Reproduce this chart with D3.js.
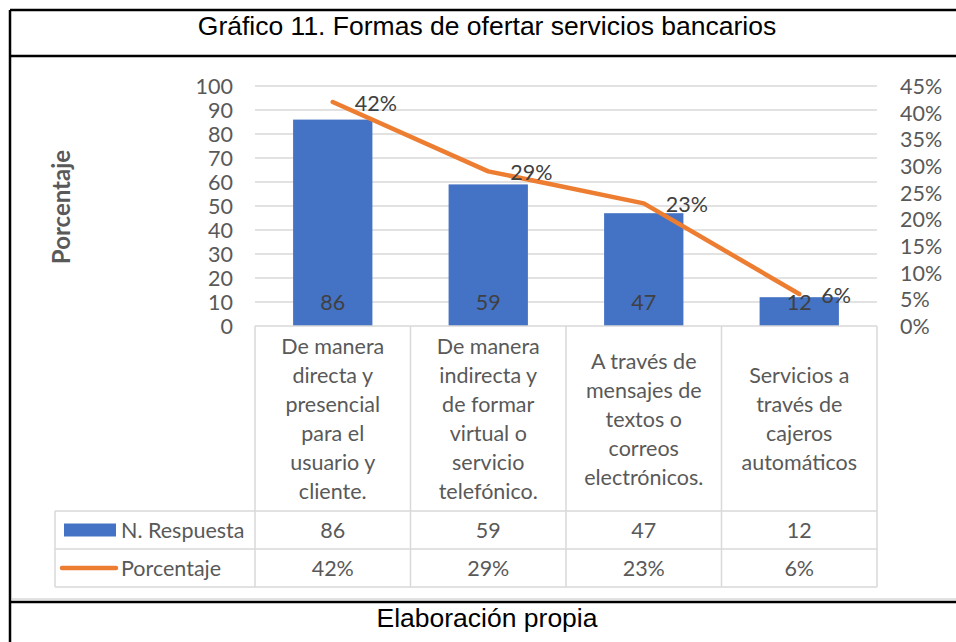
<!DOCTYPE html>
<html>
<head>
<meta charset="utf-8">
<script src="https://cdn.jsdelivr.net/npm/d3@7"></script>
<style>
  body { margin: 0; background: #fff; }
  svg text { font-family: Lato, "Open Sans", sans-serif; }
</style>
</head>
<body>
<svg id="chart"></svg>
<script>
// data
const categories = [
  ['De manera', 'directa y', 'presencial', 'para el', 'usuario y', 'cliente.'],
  ['De manera', 'indirecta y', 'de formar', 'virtual o', 'servicio', 'telefónico.'],
  ['A través de', 'mensajes de', 'textos o', 'correos', 'electrónicos.'],
  ['Servicios a', 'través de', 'cajeros', 'automáticos']
];
const respuestas = [86, 59, 47, 12];
const porcentajes = [0.42, 0.29, 0.23, 0.06];
const leftTicks = [0, 10, 20, 30, 40, 50, 60, 70, 80, 90, 100];
const rightTicks = [0, 0.05, 0.10, 0.15, 0.20, 0.25, 0.30, 0.35, 0.40, 0.45];

const width = 956, height = 642;
const plot = { left: 255, right: 877, top: 86, bottom: 326 };
const tableTop = 511, rowH = 38, legendLeft = 55;
const fs = '21.5px';

const svg = d3.select('#chart').attr('width', width).attr('height', height);

const idx = d3.range(categories.length);
const x = d3.scaleBand().domain(idx).range([plot.left, plot.right])
    .paddingInner(0.49).paddingOuter(0.245);
const y = d3.scaleLinear().domain([0, 100]).range([plot.bottom, plot.top]);
const y2 = d3.scaleLinear().domain([0, 0.45]).range([plot.bottom, plot.top]);
const fmtPct = d3.format('.0%');
const grey = '#595959', dark = '#404040', gridC = '#d9d9d9';

// outer frame
svg.append('line').attr('x1', 12).attr('x2', width).attr('y1', 599).attr('y2', 599)
    .attr('stroke', gridC).attr('stroke-width', 1.5);
svg.append('g').attr('stroke', '#000').attr('stroke-width', 2.5).selectAll('line')
    .data([[10, 10, width, 10], [10, 56, width, 56], [10, 602, width, 602], [10, 10, 10, height]])
    .join('line')
    .attr('x1', d => d[0]).attr('y1', d => d[1]).attr('x2', d => d[2]).attr('y2', d => d[3]);

svg.append('text').attr('x', 487).attr('y', 35).attr('text-anchor', 'middle')
    .style('font-family', '"Liberation Sans", Arial, sans-serif').style('font-size', '26.5px')
    .attr('fill', '#000').text('Gráfico 11. Formas de ofertar servicios bancarios');
svg.append('text').attr('x', 487).attr('y', 627).attr('text-anchor', 'middle')
    .style('font-family', '"Liberation Sans", Arial, sans-serif').style('font-size', '26.5px')
    .attr('fill', '#000').text('Elaboración propia');

// gridlines
svg.append('g').selectAll('line').data(leftTicks.slice(1)).join('line')
    .attr('x1', plot.left).attr('x2', plot.right)
    .attr('y1', d => y(d)).attr('y2', d => y(d))
    .attr('stroke', gridC).attr('stroke-width', 1.3);

// left axis
const yAxis = svg.append('g').attr('transform', `translate(${plot.left - 22},0)`)
    .call(d3.axisLeft(y).tickValues(leftTicks).tickSize(0).tickPadding(0));
yAxis.select('.domain').remove();
yAxis.selectAll('text').attr('fill', grey).style('font-size', fs).attr('dy', '0.35em');

// right axis
const y2Axis = svg.append('g').attr('transform', `translate(${plot.right + 23},0)`)
    .call(d3.axisRight(y2).tickValues(rightTicks).tickFormat(fmtPct).tickSize(0).tickPadding(0));
y2Axis.select('.domain').remove();
y2Axis.selectAll('text').attr('fill', grey).style('font-size', fs).attr('dy', '0.35em');

// axis title
svg.append('text').attr('transform', `translate(70,207) rotate(-90)`)
    .attr('text-anchor', 'middle').attr('fill', grey)
    .style('font-size', '24px').style('font-weight', 'bold').text('Porcentaje');

// bars
svg.append('g').selectAll('rect').data(respuestas).join('rect')
    .attr('x', (d, i) => x(i)).attr('width', x.bandwidth())
    .attr('y', d => y(d)).attr('height', d => y(0) - y(d))
    .attr('fill', '#4472c4');

svg.append('g').selectAll('text').data(respuestas).join('text')
    .attr('x', (d, i) => x(i) + x.bandwidth() / 2).attr('y', y(0) - 24)
    .attr('dy', '0.35em').attr('text-anchor', 'middle')
    .attr('fill', dark).style('font-size', fs).text(d => d);

// line
const cx = i => x(i) + x.bandwidth() / 2;
svg.append('path').datum(porcentajes)
    .attr('d', d3.line().x((d, i) => cx(i)).y(d => y2(d)))
    .attr('fill', 'none').attr('stroke', '#ed7d31').attr('stroke-width', 4.5)
    .attr('stroke-linecap', 'round').attr('stroke-linejoin', 'round');

svg.append('g').selectAll('text').data(porcentajes).join('text')
    .attr('x', (d, i) => cx(i) + 22).attr('y', d => y2(d) + 1)
    .attr('dy', '0.35em').attr('fill', dark).style('font-size', fs)
    .text(d => fmtPct(d));

// baseline + table
const step = x.step();
const tableBottom = tableTop + 2 * rowH;
const tbl = svg.append('g').attr('stroke', gridC).attr('stroke-width', 1.5);
tbl.append('line').attr('x1', plot.left).attr('x2', plot.right).attr('y1', plot.bottom).attr('y2', plot.bottom);
[tableTop, tableTop + rowH, tableBottom].forEach(yy => {
  tbl.append('line').attr('x1', legendLeft).attr('x2', plot.right).attr('y1', yy).attr('y2', yy);
});
d3.range(categories.length + 1).forEach(i => {
  const xx = plot.left + i * step;
  tbl.append('line').attr('x1', xx).attr('x2', xx).attr('y1', plot.bottom).attr('y2', tableBottom);
});
tbl.append('line').attr('x1', legendLeft).attr('x2', legendLeft).attr('y1', tableTop).attr('y2', tableBottom);

// category labels
const lineH = 29, labelMid = 419;
categories.forEach((lines, i) => {
  const t = svg.append('text').attr('text-anchor', 'middle').attr('fill', grey).style('font-size', fs);
  const y0 = labelMid - (lines.length - 1) * lineH / 2;
  lines.forEach((ln, j) => {
    t.append('tspan').attr('x', plot.left + (i + 0.5) * step).attr('y', y0 + j * lineH)
        .attr('dy', '0.35em').text(ln);
  });
});

// table values
const rows = [
  { name: 'N. Respuesta', values: respuestas.map(String) },
  { name: 'Porcentaje', values: porcentajes.map(fmtPct) }
];
rows.forEach((r, k) => {
  const cy = tableTop + rowH * (k + 0.5);
  r.values.forEach((v, i) => {
    svg.append('text').attr('x', plot.left + (i + 0.5) * step).attr('y', cy)
        .attr('dy', '0.35em').attr('text-anchor', 'middle')
        .attr('fill', grey).style('font-size', fs).text(v);
  });
  svg.append('text').attr('x', 121).attr('y', cy).attr('dy', '0.35em')
      .attr('fill', grey).style('font-size', fs).text(r.name);
});
// legend keys
svg.append('rect').attr('x', 64).attr('y', tableTop + rowH / 2 - 6.5).attr('width', 52).attr('height', 13)
    .attr('fill', '#4472c4');
svg.append('line').attr('x1', 62).attr('x2', 116)
    .attr('y1', tableTop + rowH * 1.5).attr('y2', tableTop + rowH * 1.5)
    .attr('stroke', '#ed7d31').attr('stroke-width', 4.5).attr('stroke-linecap', 'round');
</script>
</body>
</html>
